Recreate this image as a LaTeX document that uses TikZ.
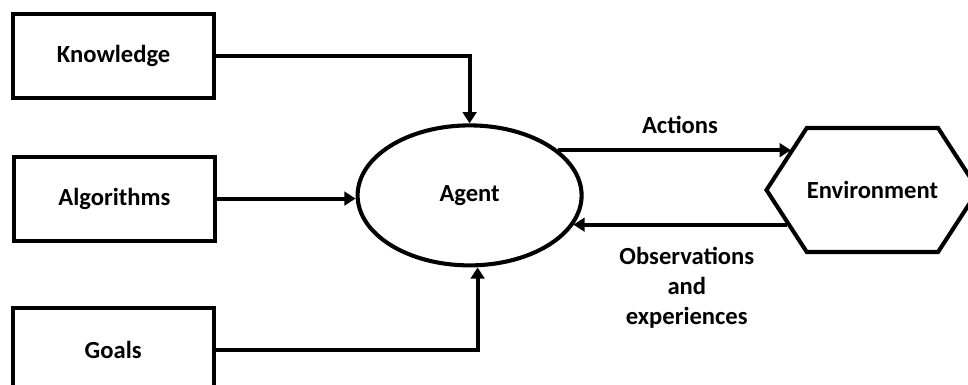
\documentclass[tikz,border=0pt]{standalone}
\usepackage{fontspec}
\setmainfont{Carlito}
\usepackage{tikz}
\usetikzlibrary{arrows.meta,positioning,shapes.geometric,shapes.symbols}

\tikzset{
  every node/.style={font=\bfseries\fontsize{17.5}{21.3}\selectfont},
  inbox/.style={draw, line width=2.9pt, minimum width=5.025cm, minimum height=2.1cm, inner sep=0pt},
  feed/.style={line width=2.8pt, -{Triangle[length=0.28cm,width=0.34cm]}}
}

\begin{document}
\begin{tikzpicture}
    \useasboundingbox (0,0) rectangle (24.2,9.625);
    % inputs
    \node[inbox] (know)  at (2.84,8.225)  {Knowledge};
    \node[inbox] (algo)  at (2.86,4.66)   {Algorithms};
    \node[inbox] (goals) at (2.83,0.88)   {Goals};
    % agent and its world
    \node[draw, ellipse, line width=2.9pt, minimum width=5.6cm, minimum height=3.5cm,
          inner sep=0pt] (agent) at (11.74,4.74) {Agent};
    \node[draw, signal, signal to=east and west, signal pointer angle=114,
          line width=2.9pt, minimum width=5.2cm, minimum height=3.1cm,
          inner sep=0pt] (env) at (21.81,4.875) {Environment};
    \draw[feed] (know.east) -| (agent.north);
    \draw[feed] (algo.east) -- (agent.west |- algo.east);
    \draw[feed] (goals.east) -| ([xshift=0.2cm]agent.south);
    \draw[feed] (agent.27) -- (env.153 |- agent.27);
    \draw[feed] (env.202) -- (agent.-16 |- env.202);
    \node (act) at (17.0,6.5) {Actions};
    \node[align=center] (obs) at (17.17,2.43) {Observations\\and\\experiences};
\end{tikzpicture}
\end{document}
